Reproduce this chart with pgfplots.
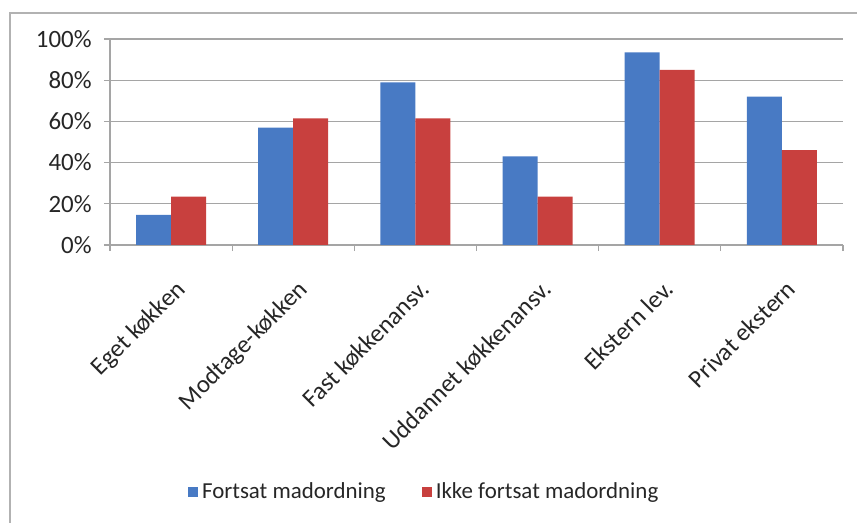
\documentclass[border=0pt]{standalone}
\usepackage{pgfplots}
\pgfplotsset{compat=1.18}
\usepackage{fontspec}
\setmainfont{Carlito}
\definecolor{barblue}{RGB}{72,122,196}
\definecolor{barred}{RGB}{200,64,62}
\definecolor{gridgray}{RGB}{165,165,165}
\begin{document}
\begin{tikzpicture}
\useasboundingbox (0,0) rectangle (428.5bp,261.5bp);
\draw[gray!60, line width=1bp] (5bp,0) -- (5bp,255bp) -- (428.5bp,255bp);
\begin{axis}[
  at={(55bp,139bp)}, anchor=south west,
  scale only axis, width=366.5bp, height=103bp,
  xmin=-0.5, xmax=5.5, ymin=0, ymax=100,
  axis x line*=bottom, axis y line*=left,
  axis line style={gridgray, line width=0.6bp, -},
  ybar=0pt, bar width=17.5bp,
  xtick={0,...,5},
  xticklabels={Eget køkken, Modtage-køkken, Fast køkkenansv., Uddannet køkkenansv., Ekstern lev., Privat ekstern},
  xtick style={draw=none},
  extra x ticks={-0.5,0.5,...,5.5}, extra x tick labels={},
  extra x tick style={xtick style={draw=gridgray, line width=0.6bp}},
  ytick={0,20,...,100},
  yticklabels={0\%,20\%,40\%,60\%,80\%,100\%},
  ymajorgrids, grid style={gridgray, line width=0.6bp},
  ytick style={draw=gridgray, line width=0.6bp},
  tick align=outside, major tick length=3bp,
  tick label style={font=\fontsize{12.5}{14}\selectfont, text=black!85},
  yticklabel style={inner sep=0pt, xshift=-6bp},
  xticklabel style={inner sep=0pt, yshift=-13.5bp, xshift=1.5bp, rotate=45, anchor=north east},
  legend style={at={(0.43,-1.2)}, anchor=center, draw=none, fill=none,
    legend columns=2, font=\fontsize{11.5}{13}\selectfont, text=black!85,
    /tikz/every even column/.append style={column sep=16bp}},
]
\addplot[fill=barblue, draw=none,
  legend image code/.code={\fill[barblue] (0bp,-2.5bp) rectangle (5bp,2.5bp);}]
  coordinates {(0,14.6) (1,57) (2,79) (3,43) (4,93.5) (5,72)};
\addplot[fill=barred, draw=none,
  legend image code/.code={\fill[barred] (0bp,-2.5bp) rectangle (5bp,2.5bp);}]
  coordinates {(0,23.5) (1,61.5) (2,61.5) (3,23.5) (4,85) (5,46)};
\legend{Fortsat madordning, Ikke fortsat madordning}
\end{axis}
\end{tikzpicture}
\end{document}
